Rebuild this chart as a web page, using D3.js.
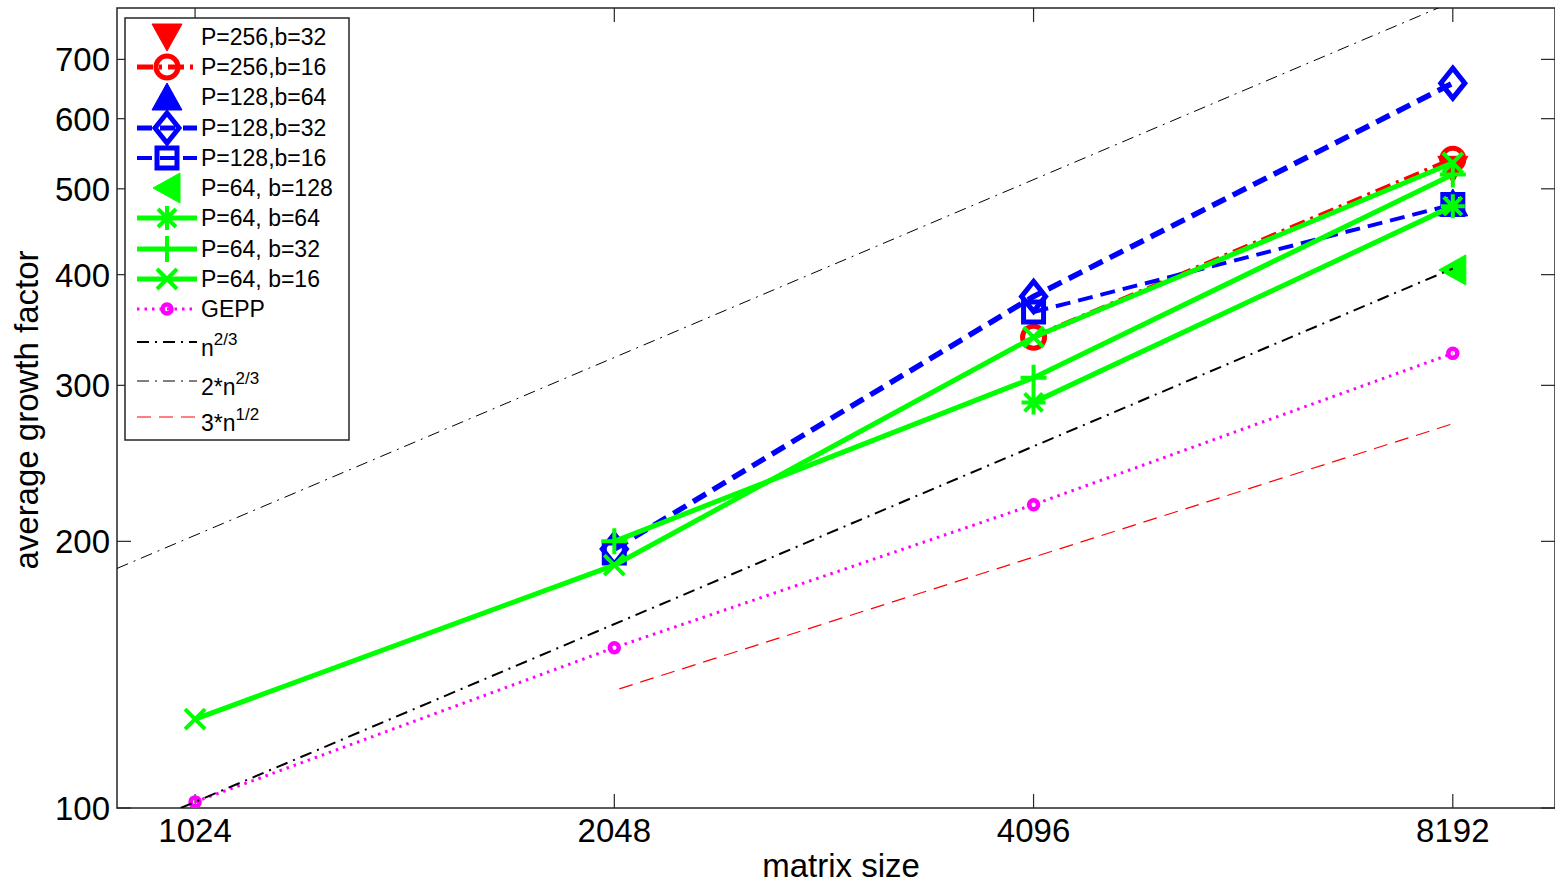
<!DOCTYPE html>
<html><head><meta charset="utf-8">
<script src="https://cdn.jsdelivr.net/npm/d3@7"></script>
<style>body{margin:0;background:#fff;} svg{display:block;} text{font-family:"Liberation Sans",Arial,sans-serif;}</style>
</head><body>
<svg id="chart" width="1555" height="884"></svg>
<script>
// ---- data ----
const xTicks = [1024, 2048, 4096, 8192];
const yTicks = [100, 200, 300, 400, 500, 600, 700];

const s_P256b32_n = [8192];        const s_P256b32_v = [526];
const s_P256b16_n = [4096, 8192];  const s_P256b16_v = [340, 540];
const s_P128b64_n = [8192];        const s_P128b64_v = [482];
const s_P128b32_n = [2048, 4096, 8192]; const s_P128b32_v = [196, 378, 658];
const s_P128b16_n = [2048, 4096, 8192]; const s_P128b16_v = [194, 363, 480];
const s_P64b128_n = [8192];        const s_P64b128_v = [405];
const s_P64b64_n  = [4096, 8192];  const s_P64b64_v  = [287, 478];
const s_P64b32_n  = [2048, 4096, 8192]; const s_P64b32_v = [200, 306, 519];
const s_P64b16_n  = [1024, 2048, 4096, 8192]; const s_P64b16_v = [126, 188, 340, 535];
const s_GEPP_n    = [1024, 2048, 4096, 8192]; const s_GEPP_v = [101.6, 151.7, 220, 326];
const r_n23_n  = [1000, 8192];  const r_n23_v  = [100, 406.4];
const r_2n23_n = [900, 9700];   const r_2n23_v = [186.4, 910];
const r_3n12_n = [2065, 8192];  const r_3n12_v = [136.3, 271.5];

const legendLabels = ["P=256,b=32","P=256,b=16","P=128,b=64","P=128,b=32","P=128,b=16",
  "P=64, b=128","P=64, b=64","P=64, b=32","P=64, b=16","GEPP"];

// ---- layout ----
const L = 117, T = 8, R = 1555, B = 808;
const svg = d3.select("#chart");
const x = d3.scaleLog().domain([900, 9700]).range([L, R]);
const y = d3.scaleLog().domain([100, 800]).range([B, T]);

const RED = "#ff0000", BLUE = "#0000ff", GREEN = "#00ff00", MAG = "#ff00ff";

const series = [
  {n:s_P256b32_n, v:s_P256b32_v, color:RED, w:0, dash:null, m:"v", label:legendLabels[0]},
  {n:s_P256b16_n, v:s_P256b16_v, color:RED, w:5, dash:"16,6,3,6", m:"o", label:legendLabels[1]},
  {n:s_P128b64_n, v:s_P128b64_v, color:BLUE, w:0, dash:null, m:"^", label:legendLabels[2]},
  {n:s_P128b32_n, v:s_P128b32_v, color:BLUE, w:5.5, dash:"15,8", m:"d", label:legendLabels[3]},
  {n:s_P128b16_n, v:s_P128b16_v, color:BLUE, w:4, dash:"15,8", m:"s", label:legendLabels[4], lineFrom:1},
  {n:s_P64b128_n, v:s_P64b128_v, color:GREEN, w:0, dash:null, m:"<", label:legendLabels[5]},
  {n:s_P64b64_n, v:s_P64b64_v, color:GREEN, w:5, dash:null, m:"*", label:legendLabels[6]},
  {n:s_P64b32_n, v:s_P64b32_v, color:GREEN, w:5, dash:null, m:"+", label:legendLabels[7]},
  {n:s_P64b16_n, v:s_P64b16_v, color:GREEN, w:5, dash:null, m:"x", label:legendLabels[8]},
  {n:s_GEPP_n, v:s_GEPP_v, color:MAG, w:3, dash:"2.5,5", m:"g", label:legendLabels[9]}
];
const refs = [
  {n:r_n23_n, v:r_n23_v, color:"#000", w:2, dash:"12,6,2,6"},
  {n:r_2n23_n, v:r_2n23_v, color:"#000", w:1, dash:"12,6,2,6"},
  {n:r_3n12_n, v:r_3n12_v, color:RED, w:1.2, dash:"14,8"}
];

function markerPath(m){
  switch(m){
    case "v": return "M-15,-13L15,-13L0,14Z";
    case "^": return "M-15,13L15,13L0,-14Z";
    case "<": return "M13,-15L13,15L-14,0Z";
    case "d": return "M0,-15L12,0L0,15L-12,0Z";
    case "s": return "M-10,-10L10,-10L10,10L-10,10Z";
    case "*": return "M-12,0L12,0M0,-12L0,12M-9,-9L9,9M-9,9L9,-9";
    case "+": return "M-13,0L13,0M0,-13L0,13";
    case "x": return "M-10,-10L10,10M-10,10L10,-10";
  }
}
function drawMarker(g, m, color, cx, cy){
  if(m==="o"){ g.append("circle").attr("cx",cx).attr("cy",cy).attr("r",11).attr("fill","none").attr("stroke",color).attr("stroke-width",5); return; }
  if(m==="g"){ g.append("circle").attr("cx",cx).attr("cy",cy).attr("r",4.5).attr("fill","none").attr("stroke",color).attr("stroke-width",4.5); return; }
  const filled = (m==="v"||m==="^"||m==="<");
  g.append("path").attr("transform",`translate(${cx},${cy})`).attr("d",markerPath(m))
    .attr("fill", filled?color:"none").attr("stroke",color)
    .attr("stroke-width", filled?1:(m==="d"||m==="s"?5:4)).attr("stroke-linejoin","miter");
}

// clip
svg.append("defs").append("clipPath").attr("id","clip").append("rect")
  .attr("x",L).attr("y",T).attr("width",R-L).attr("height",B-T);

// axes box & ticks
const ax = svg.append("g");
ax.append("rect").attr("x",L).attr("y",T).attr("width",R-L).attr("height",B-T)
  .attr("fill","none").attr("stroke","#262626").attr("stroke-width",1.5);
const tl = 14;
xTicks.forEach(t=>{
  ax.append("line").attr("x1",x(t)).attr("x2",x(t)).attr("y1",B).attr("y2",B-tl).attr("stroke","#262626").attr("stroke-width",1.2);
  ax.append("line").attr("x1",x(t)).attr("x2",x(t)).attr("y1",T).attr("y2",T+tl).attr("stroke","#262626").attr("stroke-width",1.2);
  ax.append("text").attr("x",x(t)).attr("y",842).attr("text-anchor","middle").attr("font-size",33).attr("fill","#000").text(t);
});
yTicks.forEach(t=>{
  ax.append("line").attr("x1",L).attr("x2",L+tl).attr("y1",y(t)).attr("y2",y(t)).attr("stroke","#262626").attr("stroke-width",1.2);
  ax.append("line").attr("x1",R).attr("x2",R-tl).attr("y1",y(t)).attr("y2",y(t)).attr("stroke","#262626").attr("stroke-width",1.2);
  ax.append("text").attr("x",110).attr("y",y(t)+12).attr("text-anchor","end").attr("font-size",33).attr("fill","#000").text(t);
});
svg.append("text").attr("x",841).attr("y",877).attr("text-anchor","middle").attr("font-size",33).text("matrix size");
svg.append("text").attr("transform","translate(38,410) rotate(-90)").attr("text-anchor","middle").attr("font-size",33).text("average growth factor");

// plot
const plot = svg.append("g").attr("clip-path","url(#clip)");
const line = d3.line().x(d=>x(d[0])).y(d=>y(d[1]));
series.forEach(s=>{
  const pts = s.n.map((n,i)=>[n, s.v[i]]);
  const lp = pts.slice(s.lineFrom || 0);
  if(s.w>0 && lp.length>1){
    plot.append("path").attr("d",line(lp)).attr("fill","none").attr("stroke",s.color)
      .attr("stroke-width",s.w).attr("stroke-dasharray",s.dash);
  }
  pts.forEach(p=>drawMarker(plot, s.m, s.color, x(p[0]), y(p[1])));
});
refs.forEach(s=>{
  const pts = s.n.map((n,i)=>[n, s.v[i]]);
  plot.append("path").attr("d",line(pts)).attr("fill","none").attr("stroke",s.color)
    .attr("stroke-width",s.w).attr("stroke-dasharray",s.dash);
});

// legend
const lg = svg.append("g");
lg.append("rect").attr("x",125).attr("y",18).attr("width",224).attr("height",422)
  .attr("fill","#fff").attr("stroke","#262626").attr("stroke-width",1.5);
const rowY = [37,67,97,128,158,188,218,249,279,309];
series.forEach((s,i)=>{
  const yy = rowY[i];
  if(s.w>0) lg.append("line").attr("x1",137).attr("x2",197).attr("y1",yy).attr("y2",yy)
    .attr("stroke",s.color).attr("stroke-width",Math.min(s.w,5)).attr("stroke-dasharray",s.dash);
  drawMarker(lg, s.m, s.color, 167, yy);
  lg.append("text").attr("x",201).attr("y",yy+8).attr("font-size",23).attr("fill","#000").text(s.label);
});
const refLegend = [
  {y:342, pre:"n", sup:"2/3"},
  {y:381, pre:"2*n", sup:"2/3"},
  {y:417, pre:"3*n", sup:"1/2"}
];
refLegend.forEach((r,i)=>{
  const s = refs[i];
  lg.append("line").attr("x1",137).attr("x2",197).attr("y1",r.y).attr("y2",r.y)
    .attr("stroke",s.color).attr("stroke-width",s.w).attr("stroke-dasharray",s.dash);
  const t = lg.append("text").attr("x",201).attr("y",r.y+14).attr("font-size",23).attr("fill","#000");
  t.append("tspan").text(r.pre);
  t.append("tspan").attr("dy",-11).attr("font-size",17).text(r.sup);
});
</script>
</body></html>
